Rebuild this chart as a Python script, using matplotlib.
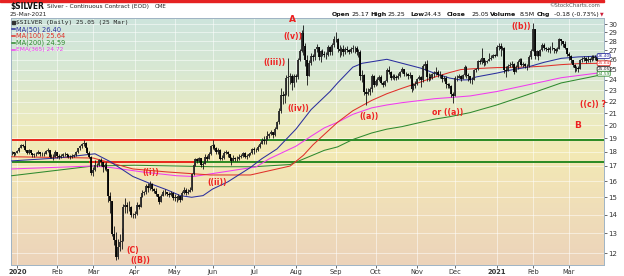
import numpy as np
import pandas as pd
import matplotlib
matplotlib.use("Agg")
import matplotlib.pyplot as plt
import matplotlib.transforms as mtransforms
from matplotlib.colors import LinearSegmentedColormap
from matplotlib.patches import Rectangle

# ---------------- data ----------------
holidays = ['2020-01-01', '2020-01-20', '2020-02-17', '2020-04-10', '2020-05-25',
            '2020-07-03', '2020-09-07', '2020-11-26', '2020-12-25', '2021-01-01',
            '2021-01-18', '2021-02-15']
start_date, end_date = '2019-12-27', '2021-03-25'

close = [
    17.95, 17.80, 17.90,  # Dec 2019
    18.05, 18.30, 18.50, 18.45, 18.15, 17.90, 18.10, 17.90, 17.75, 17.80, 17.85, 18.00, 17.85, 17.80, 17.85, 18.05, 18.15, 17.65, 17.65, 17.65, 18.00,
    17.70, 17.65, 17.70, 17.80, 17.85, 17.75, 17.65, 17.60, 17.70, 17.75, 17.95, 18.25, 18.40, 18.55, 18.65, 18.30, 17.90, 17.65, 16.55,
    16.70, 17.05, 17.10, 17.40, 17.30, 16.95, 17.10, 16.80, 15.10, 14.75, 12.95, 12.65, 11.80, 12.30, 12.55, 12.60, 14.40, 14.55, 14.45, 14.45, 14.00, 13.95,
    14.05, 14.55, 14.45, 15.00, 15.25, 15.30, 15.70, 15.55, 15.80, 15.50, 15.40, 15.20, 15.00, 14.70, 15.10, 15.30, 15.30, 15.20, 15.15, 15.25, 14.95,
    15.00, 14.95, 15.05, 14.85, 15.25, 15.45, 15.25, 15.35, 15.45, 16.45, 17.05, 17.45, 17.35, 17.55, 17.05, 17.15, 17.65, 17.50, 17.80, 18.40,
    18.50, 18.25, 18.00, 18.10, 17.50, 17.55, 17.90, 17.95, 17.80, 17.55, 17.35, 17.55, 17.50, 17.45, 17.60, 17.70, 17.90, 17.65, 17.70, 17.80, 17.90, 18.20,
    18.10, 18.10, 18.35, 18.60, 18.90, 18.75, 18.90, 19.20, 19.35, 19.45, 19.25, 19.75, 20.25, 21.20, 22.60, 22.45, 22.70, 24.20, 24.25, 24.40, 23.70, 24.40,
    24.30, 26.00, 26.90, 28.95, 27.50, 26.00, 24.40, 25.70, 26.40, 26.30, 27.10, 27.35, 26.30, 26.90, 26.60, 26.50, 26.50, 27.35, 26.80, 27.60, 28.20,
    28.30, 27.20, 26.90, 27.20, 26.80, 27.15, 27.00, 26.80, 27.10, 27.25, 27.30, 26.80, 26.80, 24.40, 24.50, 22.85, 22.65, 22.90, 23.10, 24.35, 23.55,
    23.90, 24.00, 24.25, 23.70, 23.50, 23.85, 25.00, 24.80, 24.20, 24.40, 24.30, 24.20, 24.40, 24.80, 25.05, 24.60, 24.60, 24.35, 24.50, 23.15, 23.40, 23.60,
    24.10, 24.30, 23.95, 25.40, 25.60, 24.30, 24.30, 24.20, 24.55, 24.70, 24.80, 24.45, 24.50, 24.10, 24.20, 23.60, 23.50, 23.40, 22.70, 22.50,
    24.15, 24.20, 24.40, 24.10, 24.45, 25.30, 24.45, 24.40, 23.95, 24.00, 24.95, 25.05, 25.90, 25.75, 26.15, 25.70, 25.80, 25.90, 26.10, 26.20, 26.50, 26.40,
    27.40, 27.45, 27.10, 27.25, 25.00, 24.90, 25.40, 25.45, 25.60, 24.80, 25.30, 25.80, 26.05, 25.50, 25.60, 25.40, 25.35, 26.30, 26.90,
    29.40, 26.40, 26.90, 26.40, 27.00, 27.60, 27.30, 27.20, 27.00, 27.30, 27.30, 27.10, 26.90, 27.20, 28.20, 28.00, 27.70, 27.30, 26.60,
    26.40, 25.95, 25.50, 25.15, 25.20, 25.10, 25.95, 26.10, 26.20, 25.90, 26.10, 26.00, 26.30, 26.20, 26.30, 25.90, 25.10, 25.20, 25.05,
]
high = [
    18.05, 18.00, 18.00,
    18.10, 18.35, 18.60, 18.60, 18.85, 18.10, 18.20, 18.10, 17.90, 17.90, 17.95, 18.10, 18.00, 17.95, 17.95, 18.15, 18.30, 18.15, 17.80, 17.85, 18.10,
    17.95, 17.80, 17.80, 17.90, 17.95, 17.90, 17.80, 17.75, 17.80, 17.85, 18.05, 18.30, 18.50, 18.65, 18.90, 18.70, 18.35, 18.05, 17.70,
    16.90, 17.40, 17.20, 17.45, 17.55, 17.30, 17.20, 17.25, 16.80, 15.30, 14.55, 13.35, 13.05, 12.70, 12.95, 13.25, 14.60, 14.95, 14.70, 14.75, 14.50, 14.10,
    14.20, 14.70, 14.60, 15.10, 15.45, 15.40, 15.80, 15.85, 16.00, 15.85, 15.55, 15.55, 15.20, 15.05, 15.20, 15.45, 15.50, 15.35, 15.35, 15.40, 15.35,
    15.20, 15.05, 15.20, 15.05, 15.40, 15.60, 15.55, 15.50, 15.60, 16.55, 17.20, 17.55, 17.55, 17.65, 17.55, 17.25, 17.85, 17.75, 17.95, 18.50,
    18.85, 18.60, 18.35, 18.25, 18.20, 17.75, 18.05, 18.10, 18.05, 17.85, 17.60, 17.75, 17.65, 17.70, 17.80, 17.85, 18.00, 17.95, 17.80, 17.90, 18.00, 18.30,
    18.35, 18.25, 18.50, 18.70, 19.00, 19.15, 19.00, 19.55, 19.40, 19.60, 19.50, 19.85, 20.35, 21.40, 23.25, 22.95, 22.90, 24.50, 26.20, 24.65, 24.55, 24.55,
    24.60, 26.20, 27.20, 29.25, 29.90, 27.85, 26.50, 26.00, 26.70, 26.65, 27.20, 27.65, 27.20, 27.05, 27.10, 26.95, 26.85, 27.55, 27.50, 27.75, 28.60,
    29.00, 28.40, 27.60, 27.40, 27.60, 27.35, 27.50, 27.20, 27.40, 27.55, 27.50, 27.50, 27.10, 27.05, 25.00, 24.55, 23.25, 23.20, 23.30, 24.60, 24.45,
    24.05, 24.30, 24.45, 24.50, 23.90, 23.95, 25.15, 25.40, 24.85, 24.60, 24.55, 24.45, 24.70, 24.90, 25.25, 25.10, 24.80, 24.70, 24.75, 24.45, 23.65, 23.85,
    24.20, 24.50, 24.35, 25.60, 25.85, 26.00, 24.65, 24.55, 24.65, 24.90, 25.25, 24.95, 24.90, 24.55, 24.40, 24.40, 23.70, 23.70, 23.50, 22.90,
    24.40, 24.50, 24.55, 24.50, 24.60, 25.45, 25.35, 24.65, 24.40, 24.30, 25.05, 25.15, 26.00, 26.05, 27.30, 26.00, 25.95, 25.95, 26.75, 26.45, 26.60, 26.60,
    27.60, 27.75, 27.85, 27.50, 27.40, 25.35, 25.55, 25.75, 25.90, 25.70, 25.45, 25.95, 26.15, 26.20, 25.75, 25.65, 25.55, 26.45, 27.20,
    30.10, 29.10, 27.05, 26.90, 27.20, 27.80, 27.80, 27.40, 27.35, 27.45, 27.95, 27.30, 27.30, 27.40, 28.35, 28.25, 28.00, 28.05, 27.30,
    26.80, 26.55, 25.95, 25.60, 25.40, 25.35, 26.10, 26.30, 26.40, 26.25, 26.40, 26.20, 26.45, 26.55, 26.45, 26.30, 25.90, 25.30, 25.25,
]
low = [
    17.75, 17.70, 17.75,
    17.90, 18.00, 18.25, 18.35, 18.05, 17.80, 17.85, 17.80, 17.65, 17.65, 17.70, 17.80, 17.70, 17.70, 17.70, 17.80, 17.95, 17.55, 17.55, 17.40, 17.60,
    17.55, 17.50, 17.55, 17.65, 17.70, 17.65, 17.55, 17.45, 17.55, 17.65, 17.70, 17.90, 18.15, 18.30, 18.40, 18.15, 17.80, 17.55, 16.40,
    16.30, 16.65, 16.90, 17.00, 17.00, 16.60, 16.75, 16.65, 14.70, 14.10, 12.85, 12.40, 11.65, 11.70, 12.10, 12.20, 12.60, 14.10, 14.10, 14.20, 13.85, 13.80,
    13.80, 14.00, 14.30, 14.50, 15.00, 15.15, 15.20, 15.35, 15.45, 15.40, 15.25, 15.10, 14.85, 14.60, 14.80, 15.05, 15.15, 15.05, 15.00, 15.05, 14.85,
    14.75, 14.70, 14.85, 14.70, 14.85, 15.20, 15.15, 15.20, 15.30, 15.40, 16.40, 17.00, 17.20, 17.30, 16.90, 16.80, 17.15, 17.35, 17.45, 17.75,
    18.20, 18.15, 17.80, 17.85, 17.40, 17.40, 17.50, 17.80, 17.60, 17.40, 17.10, 17.35, 17.35, 17.35, 17.40, 17.55, 17.65, 17.55, 17.50, 17.65, 17.75, 17.80,
    17.80, 17.95, 18.05, 18.25, 18.55, 18.60, 18.55, 18.95, 19.00, 19.25, 19.05, 19.15, 19.75, 20.10, 21.00, 21.80, 21.90, 22.60, 22.50, 23.60, 23.00, 23.30,
    23.75, 24.10, 25.85, 26.80, 26.50, 25.40, 23.50, 24.40, 25.50, 25.90, 26.00, 26.80, 26.00, 25.80, 26.40, 26.30, 26.10, 26.40, 26.50, 26.50, 27.40,
    27.90, 26.80, 26.30, 26.50, 26.35, 26.60, 26.80, 26.60, 26.75, 26.85, 26.75, 26.50, 26.30, 24.00, 23.80, 22.60, 21.70, 22.60, 22.55, 22.90, 23.30,
    23.40, 23.55, 23.90, 23.60, 23.30, 23.40, 23.75, 24.60, 24.00, 24.10, 24.00, 24.00, 24.10, 24.25, 24.65, 24.35, 24.35, 24.05, 24.20, 22.90, 23.00, 23.20,
    23.55, 24.00, 23.30, 23.80, 25.00, 23.90, 23.90, 23.95, 24.05, 24.30, 24.45, 24.25, 24.15, 23.80, 23.90, 23.20, 23.25, 23.20, 22.40, 21.90,
    22.60, 23.90, 24.15, 23.90, 24.05, 24.40, 24.20, 23.90, 23.70, 23.60, 24.00, 24.80, 24.95, 25.55, 25.60, 25.40, 25.45, 25.65, 25.90, 26.00, 26.15, 26.30,
    26.40, 27.00, 26.40, 27.00, 24.70, 24.30, 24.90, 25.25, 25.30, 24.60, 24.85, 25.10, 25.60, 25.35, 25.25, 25.20, 25.00, 25.30, 26.10,
    27.00, 26.10, 26.40, 26.00, 26.50, 26.95, 27.00, 26.90, 26.80, 26.75, 27.00, 26.70, 26.75, 26.90, 27.20, 27.60, 27.40, 27.10, 26.40,
    26.00, 25.70, 25.30, 24.80, 24.90, 24.80, 25.05, 25.80, 25.90, 25.70, 25.80, 25.80, 25.90, 26.00, 26.00, 25.80, 24.90, 24.90, 24.43,
]

ma50_dates = ['2019-12-27', '2020-02-03', '2020-03-03', '2020-03-13', '2020-03-31', '2020-04-14', '2020-04-27',
              '2020-05-06', '2020-05-14', '2020-05-22', '2020-06-01', '2020-06-11', '2020-06-29', '2020-07-08',
              '2020-07-20', '2020-08-03', '2020-08-13', '2020-08-27', '2020-09-02', '2020-09-15', '2020-09-22',
              '2020-10-09', '2020-10-21', '2020-11-04', '2020-11-13', '2020-11-25', '2020-12-04', '2020-12-11',
              '2020-12-16', '2021-01-04', '2021-01-13', '2021-01-27', '2021-02-09', '2021-02-23', '2021-03-08',
              '2021-03-25']
ma50_vals = [17.35, 17.55, 17.85, 17.30, 16.30, 15.85, 15.45, 15.10, 15.00, 15.10, 15.50, 15.95, 16.90, 17.50,
             18.20, 19.70, 21.30, 22.90, 23.70, 25.24, 25.64, 26.05, 25.64, 25.14, 24.65, 24.17, 23.98, 24.00,
             24.27, 24.65, 24.94, 25.24, 25.74, 26.15, 26.30, 26.40]

ma100_dates = ['2019-12-27', '2020-03-02', '2020-03-31', '2020-04-27', '2020-05-29', '2020-06-29', '2020-07-29',
               '2020-08-07', '2020-08-14', '2020-08-27', '2020-09-02', '2020-09-15', '2020-09-29', '2020-10-09',
               '2020-10-21', '2020-11-04', '2020-11-13', '2020-11-25', '2020-12-04', '2020-12-16', '2021-01-04',
               '2021-01-27', '2021-02-09', '2021-02-23', '2021-03-08', '2021-03-25']
ma100_vals = [17.64, 17.55, 16.80, 16.60, 16.40, 16.40, 17.00, 17.75, 18.50, 19.70, 20.25, 21.20, 22.10, 22.70,
              23.20, 23.80, 24.25, 24.70, 25.00, 25.10, 25.20, 25.25, 25.35, 25.50, 25.60, 25.64]

ma200_dates = ['2019-12-27', '2020-03-02', '2020-04-01', '2020-05-01', '2020-06-01', '2020-07-01', '2020-07-29',
               '2020-08-24', '2020-09-02', '2020-09-15', '2020-09-29', '2020-10-09', '2020-10-21', '2020-11-04',
               '2020-11-13', '2020-11-25', '2020-12-11', '2021-01-04', '2021-01-27', '2021-02-23', '2021-03-22',
               '2021-03-25']
ma200_vals = [16.35, 17.00, 17.05, 17.00, 16.95, 16.95, 17.10, 18.10, 18.35, 18.90, 19.40, 19.70, 19.90, 20.25,
              20.50, 20.70, 21.05, 21.70, 22.60, 23.70, 24.40, 24.59]

ema365_dates = ['2019-12-27', '2020-03-02', '2020-03-13', '2020-04-07', '2020-05-04', '2020-05-15', '2020-07-02',
                '2020-07-14', '2020-08-03', '2020-08-13', '2020-08-24', '2020-09-02', '2020-09-15', '2020-09-29',
                '2020-10-09', '2020-10-21', '2020-11-04', '2020-11-13', '2020-11-25', '2020-12-11', '2021-01-04',
                '2021-01-27', '2021-02-23', '2021-03-22', '2021-03-25']
ema365_vals = [16.80, 17.00, 16.90, 16.60, 16.35, 16.30, 16.94, 17.50, 18.40, 19.15, 19.80, 20.25, 20.90, 21.45,
               21.70, 21.90, 22.10, 22.25, 22.35, 22.50, 22.90, 23.50, 24.20, 24.65, 24.72]

upper_level = 18.85
lower_level = 17.27
upper_segments = [('2019-12-27', '2020-07-07', 'red'), ('2020-07-07', '2021-03-25', 'green')]
lower_segments = [('2019-12-27', '2020-02-27', 'green'), ('2020-02-27', '2020-05-15', 'red'),
                  ('2020-05-15', '2021-03-25', 'green')]

y_ticks = list(range(12, 31))
legend_main = '$SILVER (Daily) 25.05 (25 Mar)'
legend_ma = [('MA(50) 26.40', 'blue'), ('MA(100) 25.64', 'red'), ('MA(200) 24.59', 'green'),
             ('EMA(365) 24.72', 'magenta')]
value_boxes = [(26.40, 'blue'), (25.64, 'red'), (25.05, 'black'), (24.59, 'green')]
header_items = [('Open', True), ('25.17', False), ('High', True), ('25.25', False), ('Low', True),
                ('24.43', False), ('Close', True), ('25.05', False), ('Volume', True), ('8.5M', False),
                ('Chg', True), ('-0.18 (-0.73%)', False)]

# ---------------- styling ----------------
COL = {'blue': '#2b2f9e', 'red': '#e0302a', 'green': '#2f8a2f', 'magenta': '#f03cf0', 'black': '#222222'}
HL = {'red': '#e8261c', 'green': '#2a8a22'}
W, H = 624, 276

dates = pd.bdate_range(start_date, end_date, freq='C', holidays=holidays)
n = len(close)
assert len(dates) == n == len(high) == len(low), (len(dates), n, len(high), len(low))
xs = np.arange(n)
c = np.array(close); h = np.array(high); l = np.array(low)
o = np.r_[c[0], c[:-1]]


def didx(ds):
    return np.searchsorted(dates.values, pd.to_datetime(ds).values)


fig = plt.figure(figsize=(W / 100, H / 100), dpi=100)
fig.patch.set_facecolor('white')
renderer = fig.canvas.get_renderer()


def fx(x):
    return x / W


def fy(y):
    return 1 - y / H


def fit_text(x, y, s, width, **kw):
    t = fig.text(fx(x), fy(y), s, fontsize=10, va='center', ha='left', **kw)
    w = t.get_window_extent(renderer).width
    t.set_fontsize(10 * width / w)
    return t


px_l, px_r, px_t, px_b = 10.5, 603.5, 18, 265
rect = [px_l / W, 1 - px_b / H, (px_r - px_l) / W, (px_b - px_t) / H]

# background gradient
bg = fig.add_axes(rect, zorder=0)
cmap = LinearSegmentedColormap.from_list('bg', [
    (0.0, '#cde4dc'), (0.22, '#d9e8d2'), (0.42, '#ecebc0'), (0.55, '#f3e9b4'),
    (0.75, '#f0dfb8'), (1.0, '#ecd3ba')])
bg.imshow(np.linspace(0, 1, 256).reshape(-1, 1), aspect='auto', cmap=cmap,
          extent=[0, 1, 1, 0], interpolation='bilinear')
bg.set_axis_off()

ax = fig.add_axes(rect, zorder=1)
ax.patch.set_alpha(0)
ax.set_yscale('log')
ax.set_ylim(11.44, 30.73)
ax.set_xlim(-0.6, n - 1 + 0.3)

month_first = [i for i in range(1, n) if dates[i].month != dates[i - 1].month]
ax.set_xticks(month_first)
xlabels = [str(dates[i].year) if dates[i].month == 1 else dates[i].strftime('%b') for i in month_first]
ax.set_xticklabels(xlabels)
for lab, i in zip(ax.get_xticklabels(), month_first):
    if dates[i].month == 1:
        lab.set_fontweight('bold')
ax.set_yticks(y_ticks)
ax.set_yticklabels([str(v) for v in y_ticks])
ax.yaxis.set_minor_locator(matplotlib.ticker.NullLocator())
ax.yaxis.tick_right()
ax.tick_params(axis='y', labelsize=5, pad=1.5, length=2, width=0.5, colors='#333333')
ax.tick_params(axis='x', labelsize=4.8, pad=1.2, length=2, width=0.5, colors='#333333')
ax.grid(True, color='white', alpha=0.6, lw=0.6)
ax.set_axisbelow(True)
for s in ax.spines.values():
    s.set_color('#9fb3c4')
    s.set_linewidth(0.7)

# horizontal levels
for level, segs in ((upper_level, upper_segments), (lower_level, lower_segments)):
    for d0, d1, col in segs:
        i0, i1 = didx([d0, d1])
        ax.plot([i0 - 0.6 if i0 == 0 else i0, i1 + 0.3 if i1 == n - 1 else i1], [level, level],
                color=HL[col], lw=1.4, zorder=2, solid_capstyle='butt')

# moving averages
for ds, vs, col in ((ma200_dates, ma200_vals, 'green'), (ema365_dates, ema365_vals, 'magenta'),
                    (ma100_dates, ma100_vals, 'red'), (ma50_dates, ma50_vals, 'blue')):
    ax.plot(didx(ds), vs, color=COL[col], lw=0.75, zorder=3)

# candles
top = np.maximum.reduce([h, o, c]); bot = np.minimum.reduce([l, o, c])
ax.vlines(xs, bot, top, color='#111111', lw=0.6, zorder=4)
up = c >= o
ax.vlines(xs[~up], c[~up], o[~up], color='#000000', lw=1.3, zorder=5)
ax.vlines(xs[up], o[up], c[up], color='#2a2a2a', lw=1.3, zorder=5)

# value boxes on the right (stacked, as in the reference)
blend = mtransforms.blended_transform_factory(ax.transAxes, ax.transData)
for val, col in value_boxes:
    ax.text(0.99, val, f'{val:.2f}', transform=blend, fontsize=3.1, color=COL[col], va='center', ha='left',
            zorder=8, clip_on=False,
            bbox=dict(boxstyle='round,pad=0.1,rounding_size=0.3', fc='white', ec=COL[col], lw=0.6))

# legend inside plot
fig.patches.append(Rectangle((fx(12), fy(24.2)), 3 / W, 3 / H, transform=fig.transFigure,
                             color='#333333', zorder=10))
fit_text(16.5, 22.5, legend_main, 112, family='DejaVu Sans Mono', color='#222222', zorder=10)
ma_widths = [45, 49, 49, 47]
for k, ((txt, col), wd) in enumerate(zip(legend_ma, ma_widths)):
    yy = 29.3 + k * 6.9
    fig.lines.append(plt.Line2D([fx(12), fx(15.5)], [fy(yy), fy(yy)], transform=fig.transFigure,
                                color=COL[col], lw=1.1, zorder=10))
    fit_text(16.2, yy, txt, wd, color=COL[col], zorder=10)

# header
fig.patches.append(Rectangle((0, fy(1.6)), 604 / W, 1.6 / H, transform=fig.transFigure, color='#e52222'))
fit_text(10, 6.3, '$SILVER', 34, fontweight='bold', color='#111111')
fit_text(47, 6.3, 'Silver - Continuous Contract (EOD)', 102, color='#222222')
fit_text(155, 6.6, 'CME', 12, color='#222222')
fit_text(10, 14.5, '25-Mar-2021', 37, color='#222222')
fit_text(549, 5.8, '\u00a9StockCharts.com', 51, color='#555555')

header_x = [332, 352, 370, 388, 410, 424, 447, 471, 490, 520, 537, 554]
header_w = [18, 15, 17, 18, 13, 18, 21, 16, 28, 15, 15, 44]
sizes = []
for (txt, bold), xx, wd in zip(header_items, header_x, header_w):
    t = fit_text(xx, 14.3, txt, wd, fontweight='bold' if bold else 'normal', color='#111111')
    sizes.append(t.get_fontsize())
fs_row = float(np.median(sizes))
for t in fig.texts[-len(header_items):]:
    t.set_fontsize(fs_row)
fig.text(fx(600), fy(14.3), '\u25bc', fontsize=3.4, color='#cc1f3a', va='center', ha='left')

# wave annotations
RED = '#ee2020'
ann = [('A', 292, 20, 6.5), ('((v))', 293, 36, 5.6), ('((iii))', 274, 63, 5.6), ('((iv))', 298, 108, 5.6),
       ('((a))', 369, 117, 5.6), ('or ((a))', 448, 113, 5.6), ('((b))', 521, 27, 5.6),
       ('((c)) ?', 593, 105, 5.6), ('B', 578, 126, 6.5), ('(C)', 133, 250, 5.6), ('((B))', 140, 261, 5.6),
       ('((i))', 151, 173, 5.6), ('((ii))', 217, 183, 5.6)]
for txt, xx, yy, fs in ann:
    fig.text(fx(xx), fy(yy), txt, fontsize=fs, fontweight='bold', color=RED, va='center', ha='center',
             zorder=12)

fig.savefig('out.png', dpi=100, facecolor='white')
